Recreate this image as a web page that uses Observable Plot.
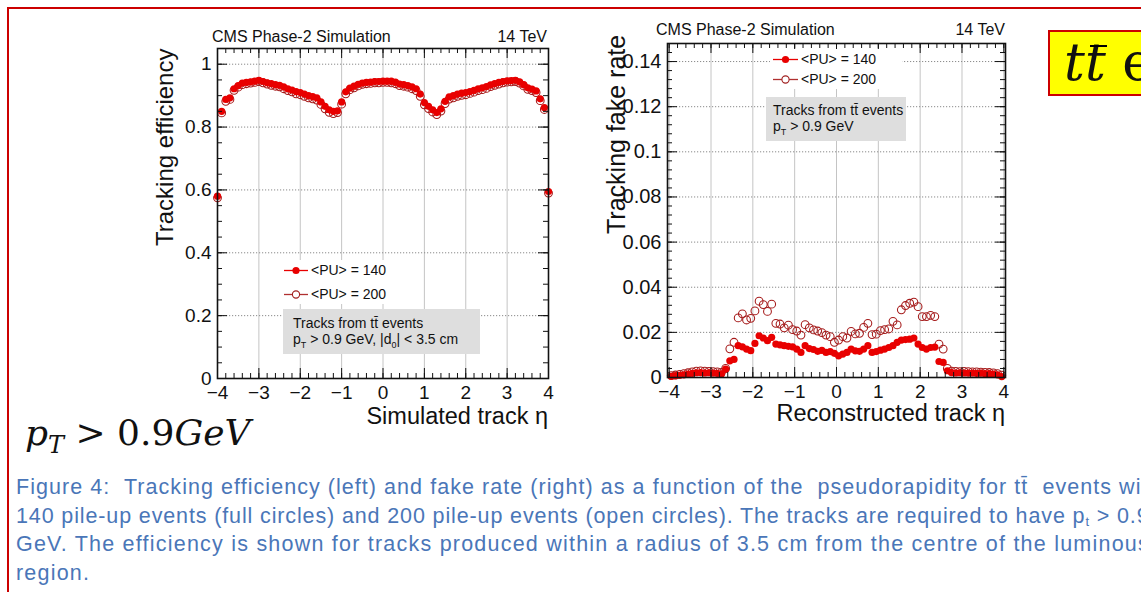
<!DOCTYPE html>
<html><head><meta charset="utf-8">
<script src="https://cdn.jsdelivr.net/npm/d3@7"></script>
<script src="https://cdn.jsdelivr.net/npm/@observablehq/plot@0.6"></script>
<style>
html,body{margin:0;padding:0;background:#fff;}
#page{position:relative;width:1141px;height:592px;overflow:hidden;font-family:"Liberation Sans",Arial,sans-serif;color:#111;}
.abs{position:absolute;white-space:nowrap;line-height:1;}
#border{position:absolute;left:7px;top:7px;width:1300px;height:800px;border-left:2px solid #cc0000;border-top:2px solid #cc0000;}
.ytitle{transform-origin:0 0;transform:rotate(-90deg);font-size:24px;}
.box{position:absolute;background:#dedede;}
.boxtxt{position:absolute;white-space:nowrap;font-size:14px;line-height:16px;}
.boxtxt sub{font-size:9px;vertical-align:-4px;line-height:0;}
.legbg{position:absolute;background:#fff;}
.legtxt{position:absolute;white-space:nowrap;font-size:14px;line-height:1;}
#caption{position:absolute;left:16px;top:473px;font-size:21.5px;line-height:28.5px;color:#4a76b8;white-space:nowrap;}
#caption span{display:block;}
#caption sub{font-size:13px;vertical-align:-3px;line-height:0;}
#math{position:absolute;left:25px;top:415px;font-family:"DejaVu Serif","Liberation Serif",serif;font-size:36px;line-height:1;white-space:nowrap;}
#math sub{font-size:24px;vertical-align:-8px;line-height:0;}
#ybox{position:absolute;left:1048px;top:30px;width:200px;height:62px;background:#ffff00;border:2px solid #cc0000;}
#ytxt{position:absolute;left:14px;top:4px;font-family:"DejaVu Serif","Liberation Serif",serif;font-size:52px;line-height:1;white-space:nowrap;}
#tbar{position:relative;display:inline-block;}
#tbar b{position:absolute;left:5px;right:-1px;top:9px;height:0;border-top:2.6px solid #000;}
</style></head><body>
<div id="page">
  <div id="border"></div>
  <div id="leftplot" style="position:absolute;left:140px;top:15px"></div>
  <div id="rightplot" style="position:absolute;left:590px;top:12px"></div>

  <div class="abs" style="left:212px;top:29px;font-size:16px">CMS Phase-2 Simulation</div>
  <div class="abs" style="right:594px;top:29px;font-size:16px">14 TeV</div>
  <div class="abs" style="left:656px;top:22px;font-size:16px">CMS Phase-2 Simulation</div>
  <div class="abs" style="right:136px;top:22px;font-size:16px">14 TeV</div>

  <div class="abs ytitle" style="left:153px;top:246px">Tracking efficiency</div>
  <div class="abs ytitle" style="left:604px;top:234px;font-size:25px">Tracking fake rate</div>
  <div class="abs" style="right:593px;top:405px;font-size:23.5px">Simulated track η</div>
  <div class="abs" style="right:136px;top:402px;font-size:23.5px">Reconstructed track η</div>

  <!-- left legend -->
  <div class="legbg" style="left:283px;top:260px;width:112px;height:44px"></div>
  <svg class="abs" style="left:284px;top:264.5px" width="24" height="11"><line x1="0" y1="5.5" x2="24" y2="5.5" stroke="#e80000" stroke-width="1.3"/><circle cx="12" cy="5.5" r="3.6" fill="#e80000"/></svg>
  <div class="legtxt" style="left:311px;top:263px">&lt;PU&gt; = 140</div>
  <svg class="abs" style="left:284px;top:288.5px" width="24" height="11"><line x1="0" y1="5.5" x2="24" y2="5.5" stroke="#b03030" stroke-width="1.3"/><circle cx="12" cy="5.5" r="3.6" fill="#fff" stroke="#a02020" stroke-width="1.1"/></svg>
  <div class="legtxt" style="left:311px;top:287px">&lt;PU&gt; = 200</div>
  <div class="box" style="left:283px;top:309px;width:197px;height:45px"></div>
  <div class="boxtxt" style="left:293px;top:315px">Tracks from tt̄ events</div>
  <div class="boxtxt" style="left:293px;top:331px">p<sub>T</sub> &gt; 0.9 GeV, |d<sub>0</sub>| &lt; 3.5 cm</div>

  <!-- right legend -->
  <div class="legbg" style="left:770px;top:49px;width:132px;height:40px"></div>
  <svg class="abs" style="left:773px;top:53.5px" width="25" height="11"><line x1="0" y1="5.5" x2="25" y2="5.5" stroke="#e80000" stroke-width="1.3"/><circle cx="12.5" cy="5.5" r="3.6" fill="#e80000"/></svg>
  <div class="legtxt" style="left:801px;top:52px">&lt;PU&gt; = 140</div>
  <svg class="abs" style="left:773px;top:73.5px" width="25" height="11"><line x1="0" y1="5.5" x2="25" y2="5.5" stroke="#b03030" stroke-width="1.3"/><circle cx="12.5" cy="5.5" r="3.6" fill="#fff" stroke="#a02020" stroke-width="1.1"/></svg>
  <div class="legtxt" style="left:801px;top:72px">&lt;PU&gt; = 200</div>
  <div class="box" style="left:766px;top:97px;width:140px;height:44px"></div>
  <div class="boxtxt" style="left:773px;top:102px">Tracks from tt̄ events</div>
  <div class="boxtxt" style="left:773px;top:118px">p<sub>T</sub> &gt; 0.9 GeV</div>

  <div id="ybox"><div id="ytxt"><i>t<span id="tbar">t<b></b></span></i> events</div></div>
  <div id="math"><i>p</i><sub><i>T</i></sub> &gt; 0.9<i>GeV</i></div>

  <div id="caption"><span style="letter-spacing:1.05px">Figure 4:&nbsp; Tracking efficiency (left) and fake rate (right) as a function of the &nbsp;pseudorapidity for tt̄ &nbsp;events with</span><span style="letter-spacing:0.87px">140 pile-up events (full circles) and 200 pile-up events (open circles). The tracks are required to have p<sub>t</sub> &gt; 0.9</span><span style="letter-spacing:1.22px">GeV. The efficiency is shown for tracks produced within a radius of 3.5 cm from the centre of the luminous</span><span style="letter-spacing:1.2px">region.</span></div>
</div>
<script>
// ---------- data ----------
const effEta = [-4.0,-3.9,-3.8,-3.7,-3.6,-3.5,-3.4,-3.3,-3.2,-3.1,-3.0,-2.9,-2.8,-2.7,-2.6,-2.5,-2.4,-2.3,-2.2,-2.1,-2.0,-1.9,-1.8,-1.7,-1.6,-1.5,-1.4,-1.3,-1.2,-1.1,-1.0,-0.9,-0.8,-0.7,-0.6,-0.5,-0.4,-0.3,-0.2,-0.1,0.0,0.1,0.2,0.3,0.4,0.5,0.6,0.7,0.8,0.9,1.0,1.1,1.2,1.3,1.4,1.5,1.6,1.7,1.8,1.9,2.0,2.1,2.2,2.3,2.4,2.5,2.6,2.7,2.8,2.9,3.0,3.1,3.2,3.3,3.4,3.5,3.6,3.7,3.8,3.9,4.0];
const effPU140 = [0.580,0.850,0.888,0.893,0.922,0.932,0.940,0.942,0.944,0.946,
  0.949,0.945,0.941,0.938,0.935,0.933,0.928,0.922,0.918,0.913,
  0.910,0.905,0.900,0.897,0.893,0.880,0.866,0.855,0.850,0.852,
  0.880,0.912,0.924,0.930,0.936,0.940,0.942,0.943,0.945,0.945,
  0.946,0.946,0.946,0.943,0.937,0.935,0.932,0.928,0.922,0.905,
  0.878,0.866,0.855,0.846,0.858,0.882,0.896,0.900,0.905,0.908,
  0.910,0.913,0.917,0.922,0.925,0.929,0.934,0.938,0.942,0.945,
  0.947,0.948,0.949,0.944,0.935,0.925,0.921,0.915,0.890,0.862,0.595];
const effPU200 = [0.575,0.845,0.882,0.888,0.917,0.927,0.935,0.938,0.940,0.942,
  0.945,0.941,0.937,0.933,0.930,0.928,0.922,0.916,0.912,0.906,
  0.903,0.898,0.893,0.890,0.886,0.872,0.858,0.847,0.843,0.846,
  0.873,0.906,0.919,0.925,0.931,0.936,0.938,0.939,0.941,0.941,
  0.942,0.942,0.941,0.938,0.932,0.930,0.927,0.922,0.916,0.898,
  0.871,0.859,0.848,0.840,0.851,0.875,0.889,0.893,0.898,0.901,
  0.903,0.907,0.911,0.916,0.919,0.923,0.929,0.933,0.937,0.941,
  0.943,0.944,0.945,0.940,0.931,0.920,0.916,0.910,0.884,0.856,0.590];

const fakeEta = [-3.95,-3.85,-3.75,-3.65,-3.55,-3.45,-3.35,-3.25,-3.15,-3.05,-2.95,-2.85,-2.75,-2.65,-2.55,-2.45,-2.35,-2.25,-2.15,-2.05,-1.95,-1.85,-1.75,-1.65,-1.55,-1.45,-1.35,-1.25,-1.15,-1.05,-0.95,-0.85,-0.75,-0.65,-0.55,-0.45,-0.35,-0.25,-0.15,-0.05,0.05,0.15,0.25,0.35,0.45,0.55,0.65,0.75,0.85,0.95,1.05,1.15,1.25,1.35,1.45,1.55,1.65,1.75,1.85,1.95,2.05,2.15,2.25,2.35,2.45,2.55,2.65,2.75,2.85,2.95,3.05,3.15,3.25,3.35,3.45,3.55,3.65,3.75,3.85,3.95];
const fakePU140 = [0.0005,0.0008,0.0010,0.0012,0.0015,0.0018,0.0021,0.0022,0.0020,0.0021,
  0.0019,0.0018,0.0016,0.0037,0.0074,0.0080,0.0141,0.0136,0.0126,0.0119,
  0.0151,0.0185,0.0175,0.0163,0.0178,0.0148,0.0145,0.0141,0.0138,0.0136,
  0.0126,0.0111,0.0141,0.0128,0.0124,0.0116,0.0120,0.0111,0.0115,0.0107,
  0.0096,0.0104,0.0111,0.0126,0.0118,0.0116,0.0126,0.0141,0.0111,0.0115,
  0.0121,0.0126,0.0133,0.0141,0.0156,0.0166,0.0168,0.0170,0.0175,0.0148,
  0.0133,0.0126,0.0133,0.0135,0.0071,0.0067,0.0030,0.0022,0.0020,0.0021,
  0.0020,0.0019,0.0020,0.0018,0.0019,0.0017,0.0017,0.0015,0.0012,0.0004];
const fakePU200 = [0.0008,0.0011,0.0014,0.0017,0.0021,0.0025,0.0028,0.0029,0.0028,0.0027,
  0.0026,0.0025,0.0023,0.0040,0.0127,0.0156,0.0264,0.0282,0.0255,0.0262,
  0.0295,0.0338,0.0323,0.0293,0.0325,0.0240,0.0237,0.0220,0.0232,0.0212,
  0.0206,0.0188,0.0234,0.0220,0.0211,0.0206,0.0199,0.0188,0.0181,0.0156,
  0.0166,0.0181,0.0175,0.0204,0.0193,0.0196,0.0222,0.0240,0.0190,0.0192,
  0.0208,0.0212,0.0215,0.0249,0.0233,0.0300,0.0319,0.0329,0.0334,0.0314,
  0.0270,0.0270,0.0275,0.0270,0.0148,0.0126,0.0040,0.0028,0.0027,0.0026,
  0.0027,0.0026,0.0025,0.0025,0.0024,0.0023,0.0022,0.0020,0.0017,0.0010];

const xMajorTicks = [-4,-3,-2,-1,0,1,2,3,4];
const effYTicks = [0,0.2,0.4,0.6,0.8,1];
const fakeYTicks = [0,0.02,0.04,0.06,0.08,0.1,0.12,0.14];

// ---------- drawing ----------
const col140 = "#e80000", col200 = "#a51a1a";
function cmsPlot({width, height, mt, mr, mb, ml, xDomain, yDomain, yTicks, yMinorStep, eta, v140, v200, yFont}) {
  const w = width - ml - mr, h = height - mt - mb;
  const rows = eta.map((e, i) => ({eta: e, a: v140[i], b: v200[i]}));
  const xMinor = d3.range(-4, 4.0001, 0.2).filter(t => t >= xDomain[0] && t <= xDomain[1]);
  const yMinor = d3.range(0, yDomain[1], yMinorStep);
  const xMaj = xMajorTicks.filter(t => t >= xDomain[0] && t <= xDomain[1]);
  const innerX = xMajorTicks.filter(t => t > xDomain[0] + 0.01 && t < xDomain[1] - 0.01);
  const innerY = yTicks.filter(t => t > 0);
  const fmt = d3.format("");
  return Plot.plot({
    width, height, marginTop: mt, marginRight: mr, marginBottom: mb, marginLeft: ml,
    x: {domain: xDomain}, y: {domain: yDomain},
    style: {fontFamily: "Liberation Sans, Arial, sans-serif", color: "#111", background: "transparent", overflow: "visible"},
    marks: [
      Plot.gridX(innerX, {stroke: "#c4c4c4", strokeOpacity: 1, strokeWidth: 1}),
      Plot.gridY(innerY, {stroke: "#8a8a8a", strokeOpacity: 1, strokeDasharray: "1.2,1.8", strokeWidth: 1}),
      Plot.dot(rows, {x: "eta", y: "b", r: 3.9, fill: "none", stroke: col200, strokeWidth: 1.05}),
      Plot.dot(rows, {x: "eta", y: "a", r: 3.6, fill: col140, stroke: "none"}),
      Plot.tickX(xMaj, {x: d => d, insetTop: h - 10, stroke: "#111"}),
      Plot.tickX(xMaj, {x: d => d, insetBottom: h - 10, stroke: "#111"}),
      Plot.tickX(xMinor, {x: d => d, insetTop: h - 5, stroke: "#111"}),
      Plot.tickX(xMinor, {x: d => d, insetBottom: h - 5, stroke: "#111"}),
      Plot.tickY(yTicks, {y: d => d, insetRight: w - 10, stroke: "#111"}),
      Plot.tickY(yTicks, {y: d => d, insetLeft: w - 10, stroke: "#111"}),
      Plot.tickY(yMinor, {y: d => d, insetRight: w - 5, stroke: "#111"}),
      Plot.tickY(yMinor, {y: d => d, insetLeft: w - 5, stroke: "#111"}),
      Plot.frame({stroke: "#111", strokeWidth: 1.6}),
      Plot.axisX({ticks: xMajorTicks, tickSize: 0, tickPadding: 7, fontSize: 19, tickFormat: fmt, label: null}),
      Plot.axisY({ticks: yTicks, tickSize: 0, tickPadding: 6, fontSize: yFont, tickFormat: fmt, label: null})
    ]
  });
}

document.getElementById("leftplot").appendChild(cmsPlot({
  width: 430, height: 420, mt: 33, mr: 22, mb: 57, ml: 77,
  xDomain: [-4, 4], yDomain: [0, 1.05], yTicks: effYTicks, yMinorStep: 0.05,
  eta: effEta, v140: effPU140, v200: effPU200, yFont: 19
}));
document.getElementById("rightplot").appendChild(cmsPlot({
  width: 430, height: 423, mt: 31, mr: 15, mb: 58, ml: 77,
  xDomain: [-4.04, 4.04], yDomain: [0, 0.148], yTicks: fakeYTicks, yMinorStep: 0.004,
  eta: fakeEta, v140: fakePU140, v200: fakePU200, yFont: 20
}));
</script>
</body></html>
